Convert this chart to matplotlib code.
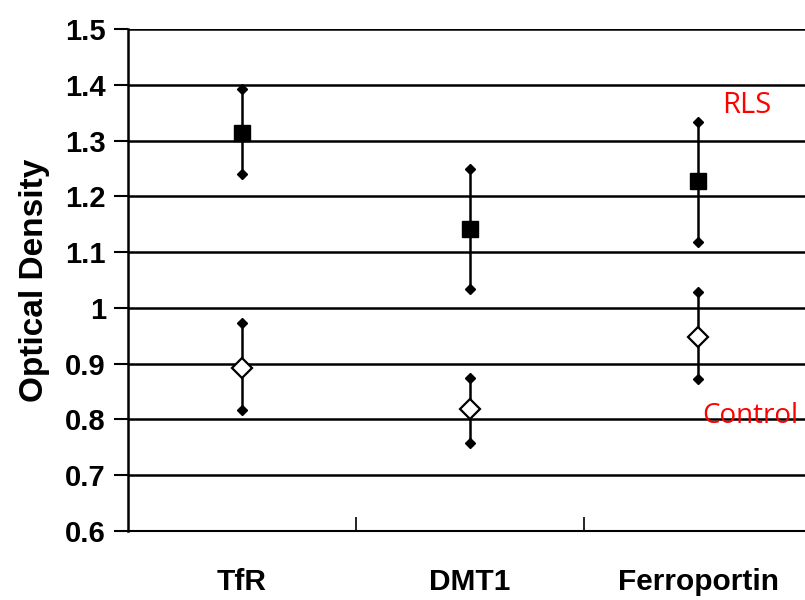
import matplotlib
matplotlib.use("Agg")
import matplotlib.pyplot as plt
from matplotlib.ticker import FixedLocator, NullFormatter

categories = ["TfR", "DMT1", "Ferroportin"]
rls_mean = [1.313, 1.141, 1.227]
rls_upper = [1.392, 1.249, 1.333]
rls_lower = [1.240, 1.034, 1.118]
ctrl_mean = [0.892, 0.819, 0.948]
ctrl_upper = [0.973, 0.874, 1.028]
ctrl_lower = [0.817, 0.758, 0.872]
yticks = [0.6, 0.7, 0.8, 0.9, 1.0, 1.1, 1.2, 1.3, 1.4, 1.5]
ytick_labels = ["0.6", "0.7", "0.8", "0.9", "1", "1.1", "1.2", "1.3", "1.4", "1.5"]

fig = plt.figure(figsize=(8.05, 6.0), dpi=100)
left = 128 / 805
right = 812 / 805
bottom = (600 - 531) / 600
top = (600 - 29) / 600
ax = fig.add_axes([left, bottom, right - left, top - bottom])

xs = [1, 2, 3]
for x, m, lo, hi in zip(xs, rls_mean, rls_lower, rls_upper):
    ax.plot([x, x], [lo, hi], color="black", lw=1.8, zorder=3)
    ax.plot([x, x], [lo, hi], ls="none", marker="D", ms=5, color="black", zorder=4)
    ax.plot([x], [m], ls="none", marker="s", ms=12, color="black", zorder=5)
for x, m, lo, hi in zip(xs, ctrl_mean, ctrl_lower, ctrl_upper):
    ax.plot([x, x], [lo, hi], color="black", lw=1.8, zorder=3)
    ax.plot([x, x], [lo, hi], ls="none", marker="D", ms=5, color="black", zorder=4)
    ax.plot([x], [m], ls="none", marker="D", ms=10, mfc="white", mec="black", mew=1.6, zorder=5)

ax.set_xlim(0.5, 3.5)
ax.set_ylim(0.6, 1.5)
ax.set_yticks(yticks)
ax.set_yticklabels(ytick_labels, fontsize=21, fontweight="bold", family="Liberation Sans")
for y in yticks[1:]:
    ax.axhline(y, color="black", lw=1.8, zorder=1)
ax.tick_params(axis="y", direction="out", length=10, width=1.5, pad=6)

ax.xaxis.set_major_locator(FixedLocator([1.5, 2.5]))
ax.xaxis.set_major_formatter(NullFormatter())
ax.xaxis.set_minor_locator(FixedLocator(xs))
ax.set_xticklabels(categories, minor=True, fontsize=21.5, fontweight="bold", family="Liberation Sans")
ax.tick_params(axis="x", which="major", direction="in", length=10, width=1.2)
ax.tick_params(axis="x", which="minor", length=0, pad=27)

for s in ["top", "right"]:
    ax.spines[s].set_visible(False)
ax.spines["left"].set_linewidth(1.8)
ax.spines["bottom"].set_linewidth(1.5)

ax.set_ylabel("Optical Density", fontsize=24, fontweight="bold", family="Liberation Sans", labelpad=11)

ax.text(3.215, 1.362, "RLS", color="red", fontsize=21, family="Open Sans", ha="center", va="center")
ax.text(3.228, 0.806, "Control", color="red", fontsize=20, family="Open Sans", ha="center", va="center")

fig.savefig("out.png", dpi=100)
